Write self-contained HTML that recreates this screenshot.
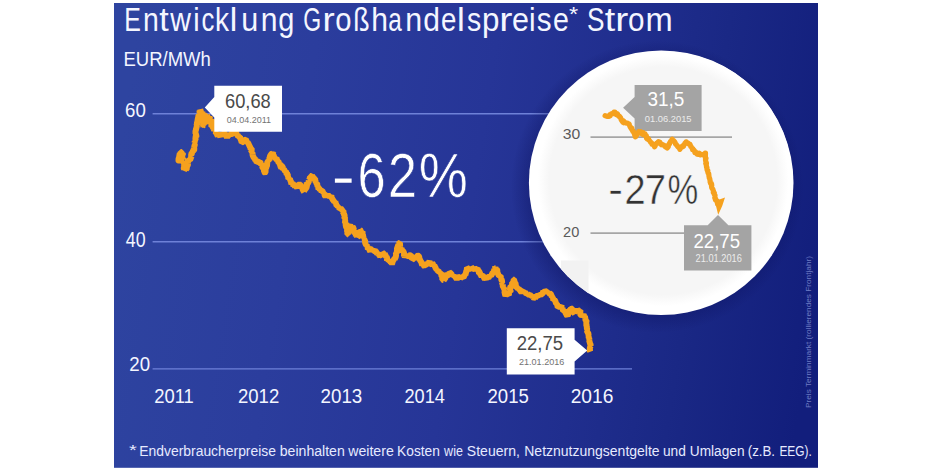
<!DOCTYPE html>
<html lang="de"><head><meta charset="utf-8"><title>Entwicklung Großhandelspreise Strom</title>
<style>
html,body{margin:0;padding:0;background:#fff;}
body{width:925px;height:474px;overflow:hidden;font-family:"Liberation Sans",sans-serif;}
svg{display:block;}
svg text{font-family:"Liberation Sans",sans-serif;}
</style></head>
<body>
<svg width="925" height="474" viewBox="0 0 925 474">
<defs>
<linearGradient id="bg" gradientUnits="userSpaceOnUse" x1="114" y1="180" x2="818" y2="290">
<stop offset="0" stop-color="#2e44a0"/><stop offset="0.25" stop-color="#2b3d9d"/><stop offset="0.5" stop-color="#263597"/><stop offset="0.68" stop-color="#202e8e"/><stop offset="0.82" stop-color="#1a2885"/><stop offset="1" stop-color="#121e7c"/>
</linearGradient>
<radialGradient id="sh" gradientUnits="userSpaceOnUse" cx="657.2" cy="186.8" r="146.3">
<stop offset="0.88" stop-color="#0a0f5a" stop-opacity="0.32"/><stop offset="1" stop-color="#0a0f5a" stop-opacity="0"/>
</radialGradient>
<radialGradient id="ci" gradientUnits="userSpaceOnUse" cx="663.2" cy="180.8" r="129.3">
<stop offset="0.88" stop-color="#f6f6f6"/><stop offset="0.97" stop-color="#ffffff"/>
</radialGradient>
<clipPath id="cc"><circle cx="661.2" cy="182.8" r="132.3"/></clipPath>
</defs>
<rect x="0" y="0" width="925" height="474" fill="#ffffff"/>
<rect x="114" y="3" width="704" height="464.8" fill="url(#bg)"/>
<!-- grid lines -->
<g stroke="#6e81d8" stroke-width="1.4">
<line x1="152.6" y1="113.8" x2="632" y2="113.8"/>
<line x1="152.6" y1="241.8" x2="632" y2="241.8"/>
<line x1="152.6" y1="368.9" x2="632" y2="368.9"/>
</g>
<!-- main series -->
<polyline fill="none" stroke="#f5a11e" stroke-width="6" stroke-linejoin="bevel" stroke-linecap="round" points="178.5,160.5 178.6,158.3 179.4,157.1 179.5,157.2 179.2,156.7 179.4,155.5 179.8,153.4 180.6,155.1 180.5,151.9 181.4,152.0 181.8,154.6 182.0,153.5 182.8,153.2 182.9,155.0 182.1,155.4 182.5,158.8 182.6,158.9 183.3,159.6 183.6,160.1 183.5,159.9 182.9,161.4 183.9,163.1 183.4,164.6 183.7,164.6 184.3,166.9 183.6,167.4 184.1,169.5 184.4,168.3 184.2,170.0 185.9,168.0 186.0,169.6 187.1,168.0 186.7,167.0 186.6,166.7 187.8,165.5 188.0,163.6 187.9,163.7 187.8,162.2 188.3,163.1 187.9,161.1 188.0,159.6 188.3,159.7 190.1,160.1 190.9,157.7 191.7,156.1 191.4,156.6 191.1,155.0 191.7,152.9 191.8,154.4 192.2,151.7 192.9,153.0 192.8,150.7 193.7,150.0 193.9,150.4 194.4,149.4 193.8,146.9 194.0,147.6 195.0,144.0 194.0,143.4 194.3,143.3 194.9,141.6 194.2,141.2 194.9,140.8 195.8,140.3 195.4,139.1 195.7,136.1 195.6,136.8 196.3,136.9 196.4,136.1 195.8,133.8 195.5,133.7 195.5,130.8 195.9,130.2 196.2,128.9 195.8,128.4 196.0,128.3 196.0,129.2 197.0,125.7 196.6,125.5 196.9,123.8 197.7,126.1 197.2,123.3 196.8,121.1 197.5,121.6 197.5,119.8 198.4,118.5 197.4,120.5 198.4,116.6 198.6,115.3 198.8,117.8 199.5,115.8 198.8,113.7 198.9,114.3 199.6,113.4 199.5,110.4 200.4,112.3 200.2,109.6 200.9,111.6 201.0,112.3 200.3,112.5 200.6,111.6 200.3,113.5 200.8,115.9 201.9,115.9 202.1,118.8 201.6,118.0 202.4,116.6 201.5,115.2 201.6,114.2 202.3,115.8 202.8,113.3 202.4,112.5 202.7,114.5 201.9,114.9 203.2,116.3 203.0,116.2 202.3,118.2 202.6,119.2 203.5,118.7 202.8,121.6 203.3,119.7 202.5,120.6 203.7,123.9 202.7,124.9 204.0,125.2 203.1,125.7 203.4,126.5 203.0,123.8 204.3,125.1 203.8,125.2 203.7,124.0 204.4,120.7 203.7,120.0 203.8,120.1 203.9,118.6 203.9,119.4 204.3,116.8 204.6,116.0 204.9,118.4 204.8,119.4 205.1,118.9 205.3,118.0 205.4,119.5 204.9,122.6 205.8,122.5 205.5,121.4 206.4,120.8 206.0,119.7 206.5,119.7 206.0,117.9 206.3,115.9 207.2,115.8 207.0,114.8 207.3,116.7 208.0,116.5 207.8,117.7 207.8,119.3 207.9,119.7 208.2,122.1 208.4,121.5 209.0,121.9 209.6,118.6 209.3,120.1 210.0,116.2 209.8,116.5 209.4,117.2 209.5,117.4 209.6,119.8 210.8,121.5 210.0,121.8 210.9,120.6 211.3,124.5 210.5,125.3 210.9,124.6 211.2,125.5 212.2,125.7 211.3,123.3 212.1,121.9 211.9,120.8 212.6,120.5 213.1,119.7 213.0,122.2 212.3,122.7 213.3,124.3 212.7,127.0 213.9,127.9 213.0,126.3 213.1,129.1 213.5,127.7 214.0,130.0 214.2,130.5 215.2,127.1 214.5,128.5 215.4,126.0 215.7,127.6 215.1,126.2 216.1,128.4 215.4,131.1 216.4,131.5 215.7,132.6 215.9,133.5 216.6,132.5 216.8,134.0 217.8,136.2 218.2,134.1 219.5,135.2 220.3,136.8 220.5,135.0 221.2,134.6 222.3,134.4 223.7,133.7 224.1,133.9 224.7,133.5 225.0,133.7 225.5,134.4 226.8,137.1 227.0,137.7 227.3,136.8 229.1,134.8 229.7,135.2 230.0,135.9 230.8,133.9 231.6,133.5 233.0,134.9 233.4,134.0 234.9,132.9 235.5,132.0 236.0,132.3 236.1,132.3 236.8,135.3 237.7,134.0 238.1,137.2 239.3,136.8 240.4,138.2 240.1,137.5 240.6,139.1 241.0,139.9 241.7,142.5 243.2,141.9 243.1,142.5 243.4,143.5 244.2,140.5 244.5,139.9 245.9,139.6 246.3,140.4 246.4,141.3 246.6,141.3 247.2,142.6 247.6,142.1 248.5,143.7 249.3,145.6 249.7,146.3 250.4,147.7 250.7,149.4 250.5,148.2 251.7,148.4 251.6,151.0 251.0,152.6 252.5,152.7 252.6,154.2 252.6,153.9 252.5,154.9 253.4,157.0 254.2,157.9 254.3,159.1 254.9,159.3 254.6,157.9 255.4,160.5 255.8,160.2 256.7,162.2 258.3,161.7 259.2,161.5 259.9,163.0 260.1,161.4 261.1,164.9 261.1,164.9 261.8,164.1 262.4,165.6 261.9,166.4 263.0,168.1 263.7,168.0 264.1,171.7 264.1,170.5 264.5,172.5 264.9,172.8 265.5,172.3 265.6,169.4 265.1,169.1 266.2,168.3 266.2,166.3 265.7,166.3 266.8,166.9 267.1,164.5 267.1,164.2 267.3,162.0 268.1,161.4 267.8,161.5 268.9,162.2 268.0,159.6 269.5,160.6 269.4,157.2 269.5,158.8 269.9,156.6 270.3,155.5 271.9,153.3 272.1,153.8 272.6,153.6 272.5,152.0 272.5,154.3 273.2,151.9 272.9,154.4 273.9,154.6 273.8,155.6 274.4,158.2 274.3,158.7 275.4,158.6 276.5,158.0 277.3,160.9 277.9,160.2 277.7,161.3 279.3,162.8 279.2,163.3 279.6,163.8 280.1,163.1 280.4,166.6 281.2,167.7 281.8,166.0 282.7,166.5 283.1,169.9 283.9,169.0 284.9,171.0 284.9,172.2 285.8,171.7 285.9,170.8 286.3,173.0 286.8,174.6 286.5,173.3 287.9,174.4 287.7,176.6 288.2,176.8 288.4,179.0 289.9,178.1 289.9,179.0 290.3,180.1 290.7,181.3 290.8,180.8 291.4,184.3 292.3,182.5 293.5,186.1 293.4,183.8 293.6,184.3 294.3,185.1 295.1,187.3 295.6,185.8 297.0,187.5 298.1,185.2 298.5,185.0 299.5,184.3 299.8,184.5 299.9,185.1 301.7,185.4 301.5,188.1 302.5,187.4 302.2,188.3 302.9,189.9 304.2,192.1 304.0,191.7 304.9,189.1 304.1,190.6 305.7,188.8 305.6,186.2 305.7,188.6 306.6,187.4 307.2,184.3 306.9,184.3 306.7,182.2 307.7,183.3 308.7,182.6 308.7,181.9 308.8,180.3 308.6,180.3 309.2,180.0 310.2,177.0 309.9,175.9 310.8,176.0 311.9,177.3 312.0,175.7 313.5,178.1 314.3,178.4 314.5,178.3 315.2,178.4 315.1,180.8 316.4,182.4 316.7,182.6 316.1,182.6 317.5,185.1 317.0,183.5 317.6,186.8 317.9,186.1 318.6,189.4 318.7,188.7 318.9,187.7 319.8,189.7 320.9,189.5 321.7,192.1 321.9,190.9 323.2,191.9 323.2,193.2 324.5,192.8 324.6,195.3 325.5,196.6 326.7,194.4 327.6,196.1 328.2,195.3 329.8,196.7 330.5,194.6 330.4,195.1 330.9,198.0 331.3,195.5 331.6,197.6 333.2,200.2 333.4,201.4 333.5,200.5 334.6,200.7 334.0,203.7 335.3,201.3 335.7,203.4 335.8,204.0 336.0,203.6 336.6,205.7 338.1,205.7 337.9,207.9 339.5,207.1 339.5,209.7 341.1,208.6 340.9,209.0 342.4,209.4 342.4,211.8 342.4,210.7 343.6,210.4 343.2,214.2 343.9,212.3 343.1,213.3 344.6,214.9 344.5,218.1 344.2,216.7 345.3,218.9 344.5,220.2 344.8,219.5 345.3,221.2 344.7,223.1 346.2,223.6 346.4,222.3 345.5,224.9 346.7,227.6 346.0,226.0 346.2,227.8 347.1,227.7 347.1,230.6 347.3,231.7 347.1,231.0 346.8,232.1 347.7,232.0 347.4,234.5 347.3,234.5 347.6,231.2 347.6,232.0 348.3,232.7 349.4,231.8 348.8,227.7 348.8,228.3 350.0,227.2 349.6,226.2 350.3,225.6 351.1,227.0 352.0,228.3 352.5,226.5 353.4,227.9 353.6,228.9 354.2,230.1 354.9,229.9 354.6,231.0 354.8,234.3 355.8,233.2 355.9,236.5 356.4,234.7 357.2,237.1 357.1,237.5 358.2,235.1 357.8,236.8 358.7,236.2 357.9,233.1 358.4,231.8 360.0,232.2 360.3,230.6 360.1,230.1 361.2,230.8 360.9,232.9 362.5,231.3 362.6,234.1 363.0,234.5 362.9,235.0 363.0,235.3 363.5,237.7 364.3,237.2 363.7,238.6 364.9,239.0 364.6,240.0 365.6,242.2 364.8,241.5 365.6,244.0 366.0,244.8 366.8,244.1 366.6,247.0 367.5,246.2 367.9,249.4 368.5,248.7 369.1,248.9 370.4,251.8 370.4,250.7 371.1,249.3 372.5,249.1 372.3,251.3 373.8,250.7 374.8,249.3 375.2,251.4 375.9,249.6 375.8,251.7 377.3,253.7 377.0,253.4 378.0,253.7 378.2,253.7 379.3,255.2 380.2,256.4 380.5,254.6 382.4,256.0 382.4,252.7 383.7,253.7 384.8,256.2 384.7,253.7 385.8,255.8 386.2,257.4 386.6,256.6 387.0,257.6 387.0,260.7 388.1,259.1 388.1,261.1 388.6,261.0 389.9,261.3 390.3,261.1 392.0,263.7 392.6,262.6 392.4,262.1 393.9,259.4 394.5,258.9 394.7,259.7 395.2,258.1 395.5,258.0 395.6,257.4 395.8,256.7 396.1,255.0 395.7,254.7 396.5,252.4 397.2,253.5 396.9,250.4 397.2,249.2 396.9,249.4 397.0,248.5 397.9,246.2 398.2,245.4 398.6,247.0 398.5,243.4 398.7,243.7 398.9,243.2 399.9,242.8 400.2,246.8 400.4,247.0 400.0,248.5 400.8,249.3 401.8,247.4 401.6,249.5 402.4,252.0 401.8,250.8 403.2,251.0 403.8,252.4 404.1,252.8 404.0,256.6 404.0,255.1 404.8,256.9 405.6,255.6 405.8,254.5 406.8,256.6 408.4,255.8 409.0,253.7 409.1,255.5 409.6,255.3 411.0,255.5 411.9,256.9 412.1,258.9 412.0,260.0 413.2,259.0 414.2,258.0 415.3,256.9 416.4,257.4 416.4,257.4 417.4,255.8 417.8,255.5 418.7,255.8 419.3,257.4 419.5,260.8 419.9,260.5 419.9,258.9 420.0,260.3 421.3,262.1 421.6,263.2 422.3,265.3 422.4,263.5 423.7,263.4 423.4,265.2 424.8,266.4 424.9,265.2 425.8,265.3 427.0,263.2 427.8,263.5 427.8,264.5 429.0,262.2 429.5,261.4 430.1,263.5 432.1,264.5 432.2,263.0 433.2,264.3 433.0,265.7 434.4,265.5 435.0,266.7 436.0,268.6 435.5,270.1 436.4,269.5 436.6,270.3 437.9,269.8 438.3,272.4 439.1,272.2 440.6,272.7 441.6,272.3 441.0,274.9 441.8,276.0 442.7,275.2 442.3,276.6 442.3,279.7 443.8,280.0 443.8,280.1 443.6,280.5 445.2,278.2 445.7,277.3 445.5,275.1 446.0,274.0 446.9,274.8 447.5,275.2 448.8,275.0 449.6,272.4 450.1,272.7 450.8,273.3 451.8,274.5 451.7,275.7 453.3,275.0 453.3,276.9 454.9,275.4 455.1,276.5 456.8,279.3 457.5,278.0 458.9,277.1 460.1,276.8 460.3,278.6 461.7,276.9 462.7,277.1 463.5,277.6 464.0,276.5 464.8,274.8 465.5,275.2 465.6,273.8 466.3,271.4 466.2,271.6 466.5,271.8 467.0,267.7 468.0,268.5 468.5,270.4 469.9,267.9 471.2,269.5 471.3,267.3 473.0,268.9 473.8,268.8 474.3,267.4 474.7,268.1 476.2,269.3 477.5,268.5 478.4,270.8 477.8,271.6 479.5,272.8 478.8,271.0 479.2,271.3 480.7,275.0 480.7,274.8 481.6,276.7 482.3,275.4 482.2,275.5 483.9,276.5 483.9,278.0 484.9,279.0 485.1,277.7 486.3,278.9 487.2,277.1 488.9,277.3 489.1,276.9 490.3,276.6 489.8,275.2 491.1,275.8 491.7,274.8 492.7,272.4 493.3,272.7 494.1,270.3 494.4,269.7 493.5,268.9 494.9,270.8 494.1,268.2 495.1,268.4 495.4,266.4 495.3,267.3 495.9,269.4 496.2,270.7 496.6,269.0 497.5,270.9 497.1,272.3 498.0,272.7 497.8,274.6 499.2,275.5 499.5,274.8 499.7,275.9 500.8,275.6 500.7,278.0 501.6,277.2 500.9,278.9 502.2,280.6 501.7,282.8 501.8,282.2 502.5,284.1 503.1,284.6 502.8,284.3 502.8,287.0 503.8,287.5 503.9,287.5 503.6,288.2 504.6,289.7 503.9,290.2 505.2,290.3 504.3,291.5 505.3,294.3 504.6,292.8 505.0,294.3 505.5,295.9 506.4,294.2 507.1,293.7 508.9,295.1 509.1,293.8 508.8,294.6 509.1,291.6 510.6,292.2 510.5,290.1 510.0,289.9 510.1,287.5 510.8,286.0 511.1,287.8 511.8,285.9 512.0,284.9 511.5,284.5 512.3,283.3 512.5,283.2 513.6,281.1 513.5,281.3 513.8,279.5 514.0,279.5 514.8,282.8 515.2,283.1 515.7,283.9 515.8,284.1 515.6,285.7 515.7,285.9 516.6,287.1 517.8,288.6 518.3,287.7 518.8,289.2 519.8,289.8 520.4,290.9 521.6,292.6 521.9,291.8 523.7,291.0 524.2,293.3 525.2,291.8 525.3,292.4 526.3,293.8 528.2,293.3 527.8,294.0 529.2,295.0 529.9,294.7 530.7,295.7 532.0,295.7 532.2,297.7 532.7,297.2 533.7,298.0 534.7,297.5 535.0,298.8 536.1,295.1 536.8,295.9 537.3,295.6 538.7,296.2 539.4,294.3 540.4,294.7 540.8,294.9 542.6,293.5 542.3,293.9 543.4,291.1 543.8,292.5 545.1,290.9 546.5,291.6 547.0,291.6 547.6,293.2 548.9,291.8 549.1,293.1 550.2,294.6 550.1,293.5 550.6,293.7 551.4,295.3 551.8,295.8 551.7,297.5 552.3,297.4 553.1,297.9 553.3,300.6 554.4,299.6 555.5,301.3 555.6,302.2 556.2,303.7 556.9,303.7 557.6,306.4 557.4,306.1 557.7,306.9 559.9,306.5 560.3,305.1 560.3,307.1 561.6,305.0 561.2,309.2 562.7,307.5 562.4,307.9 563.2,311.0 564.1,310.8 564.4,310.3 565.8,313.4 565.3,314.5 566.5,314.9 566.9,314.6 567.7,315.2 568.4,314.2 568.1,312.9 569.1,312.2 569.5,311.9 570.2,308.9 570.7,308.9 570.9,308.4 571.9,308.8 572.4,309.9 573.0,311.9 573.6,312.7 574.4,313.3 574.3,312.5 575.7,310.8 576.4,309.8 577.6,311.4 578.2,310.2 579.3,310.8 580.4,310.1 580.3,312.9 579.8,313.6 581.2,315.6 581.1,316.6 581.7,315.6 582.1,316.5 583.6,314.5 584.3,316.3 585.0,315.5 584.9,317.8 585.1,317.3 585.5,319.3 585.2,319.1 585.7,320.4 586.4,320.5 586.6,321.8 586.3,322.3 586.4,325.8 586.8,326.1 586.5,325.3 586.9,326.9 586.8,328.2 587.4,329.8 586.7,330.6 588.1,330.9 587.0,330.9 587.1,331.5 588.6,333.9 588.3,335.5 588.8,335.9 588.6,336.9 588.8,337.7 588.7,338.3 589.2,338.2 589.4,340.0 589.8,339.7 589.2,340.4 590.3,344.5 590.3,343.5 590.8,346.0 590.6,345.9 590.5,346.0 590.0,347.5 589.8,348.5 590.1,351.2 589.7,350.6"/>
<!-- tooltip 60,68 -->
<path d="M214.3 85.8H282V131.8H214.3V117.4L204.8 107.4L214.3 97Z" fill="#ffffff"/>
<!-- tooltip 22,75 -->
<path d="M506.8 328.3H574.6V339.8L587.2 350.6L574.6 361.4V374.5H506.8Z" fill="#ffffff"/>
<!-- magnifier circle -->
<circle cx="657.2" cy="186.8" r="146.3" fill="url(#sh)"/>
<circle cx="661.2" cy="182.8" r="132.3" fill="#ffffff"/>
<circle cx="663.2" cy="180.8" r="129.3" fill="url(#ci)"/>
<g clip-path="url(#cc)">
<rect x="561" y="260.5" width="27.5" height="40" fill="#f2f2f2"/>
</g>
<g stroke="#a6a6a6" stroke-width="1.8">
<line x1="590.5" y1="137.2" x2="732" y2="137.2"/>
<line x1="590.5" y1="233.1" x2="690" y2="233.1"/>
</g>
<path d="M634.6 85H701.6V131H634.6V118.6L623.1 107.8L634.6 97Z" fill="#a4a4a4"/>
<polyline fill="none" stroke="#f5a11e" stroke-width="5.2" stroke-linejoin="round" stroke-linecap="round" points="605.1,115.7 606.1,116.1 607.5,116.5 608.9,116.5 609.9,114.8 610.2,115.8 611.2,113.8 612.7,113.6 613.4,112.9 614.0,112.2 615.0,112.1 615.8,114.4 616.6,114.9 617.6,114.1 618.5,116.0 619.1,116.5 619.6,116.3 620.7,118.0 621.2,119.7 621.8,120.6 622.1,121.1 622.8,122.2 623.8,121.1 624.1,122.8 624.8,122.4 626.5,123.2 627.3,123.1 628.2,123.6 629.2,124.1 629.5,125.2 630.2,126.9 630.8,127.9 631.4,128.9 631.7,128.0 632.4,130.7 632.9,130.8 633.0,131.6 633.7,132.0 634.3,133.8 634.3,133.7 635.3,136.8 635.5,136.7 635.8,136.5 636.7,134.2 637.2,134.7 638.4,132.3 638.8,131.4 639.3,131.6 640.5,131.7 641.7,133.7 642.4,134.3 643.2,132.7 644.4,134.2 645.1,134.0 645.4,135.6 646.4,135.8 646.5,138.2 647.4,139.1 648.5,138.7 648.7,139.8 649.4,140.5 650.2,141.5 650.7,142.3 651.7,142.9 651.9,144.1 652.4,144.0 653.6,145.3 653.9,144.9 654.5,146.8 655.1,146.1 655.3,145.4 656.5,143.3 657.1,143.4 657.8,142.3 658.3,141.8 659.4,142.9 659.8,142.1 661.3,144.7 662.1,144.3 662.7,144.8 663.9,145.2 664.5,145.8 665.4,147.0 666.2,147.2 667.2,148.1 667.9,146.2 668.3,146.8 668.5,144.8 669.5,144.0 669.4,143.5 670.4,141.9 670.5,141.5 671.5,140.8 672.0,139.4 672.2,139.2 672.7,140.4 673.8,140.8 673.9,140.9 674.8,141.9 675.6,144.2 676.0,144.3 676.4,144.7 677.5,146.3 678.2,146.5 678.2,147.2 679.4,148.0 679.8,149.4 680.4,148.4 681.1,147.5 682.3,146.1 682.2,147.0 683.6,146.2 683.9,145.3 685.1,142.9 685.6,143.4 686.1,141.8 687.0,142.6 687.4,142.9 688.0,143.0 689.1,144.2 690.0,144.4 690.8,146.5 691.2,146.8 692.2,148.5 692.8,148.6 692.7,149.7 693.5,149.6 694.5,150.9 694.9,152.6 695.8,152.1 696.3,153.2 697.1,154.2 698.3,154.3 699.2,153.3 700.3,154.9 701.3,154.4 702.3,154.6 704.2,154.3 705.1,153.2 705.5,153.2 705.4,156.1 705.0,155.8 705.3,157.5 705.6,158.4 706.0,158.4 705.5,159.7 705.6,160.7 706.5,163.4 705.8,163.7 706.1,164.3 706.4,165.8 706.5,167.1 707.0,167.5 706.9,168.5 707.1,170.0 707.9,170.6 707.6,171.2 708.1,173.1 708.7,173.6 708.9,175.2 708.9,175.7 709.2,177.4 709.4,178.4 709.7,178.4 710.0,180.4 710.2,181.0 710.1,181.8 710.8,183.8 711.5,183.7 711.8,185.6 711.5,185.9 711.7,187.7 712.5,188.9 712.9,189.4 713.0,190.0 713.5,191.1 713.3,192.2 713.5,192.2 714.4,193.0 714.1,194.1 715.1,195.3 714.7,197.8 715.4,198.0 715.4,199.8 716.3,200.7 716.8,201.2 717.1,201.0 717.4,203.0 717.5,204.0"/>
<path d="M714 196.8L719.4 199.6L725 197.6L722.2 206L718.2 214.8L716 206Z" fill="#f5a11e"/>
<path d="M684 225.3H707.7L718 215L728.4 225.3H751.4V270.5H684Z" fill="#a4a4a4"/>
<!-- texts -->
<text aria-label="Entwicklung" y="30.60" font-size="33" fill="#f4f6ff"><tspan x="124.16" textLength="16.61" lengthAdjust="spacingAndGlyphs">E</tspan><tspan x="143.01" textLength="15.84" lengthAdjust="spacingAndGlyphs">n</tspan><tspan x="159.38" textLength="9.47" lengthAdjust="spacingAndGlyphs">t</tspan><tspan x="170.24" textLength="20.69" lengthAdjust="spacingAndGlyphs">w</tspan><tspan x="193.17" textLength="6.36" lengthAdjust="spacingAndGlyphs">i</tspan><tspan x="201.61" textLength="12.87" lengthAdjust="spacingAndGlyphs">c</tspan><tspan x="214.91" textLength="14.05" lengthAdjust="spacingAndGlyphs">k</tspan><tspan x="229.82" textLength="7.51" lengthAdjust="spacingAndGlyphs">l</tspan><tspan x="241.21" textLength="17.02" lengthAdjust="spacingAndGlyphs">u</tspan><tspan x="260.70" textLength="16.76" lengthAdjust="spacingAndGlyphs">n</tspan><tspan x="278.29" textLength="16.08" lengthAdjust="spacingAndGlyphs">g</tspan></text>
<text aria-label="Großhandelspreise" y="30.60" font-size="33" fill="#f4f6ff"><tspan x="303.34" textLength="17.87" lengthAdjust="spacingAndGlyphs">G</tspan><tspan x="322.46" textLength="12.25" lengthAdjust="spacingAndGlyphs">r</tspan><tspan x="335.37" textLength="16.25" lengthAdjust="spacingAndGlyphs">o</tspan><tspan x="353.34" textLength="16.35" lengthAdjust="spacingAndGlyphs">ß</tspan><tspan x="371.21" textLength="16.74" lengthAdjust="spacingAndGlyphs">h</tspan><tspan x="388.27" textLength="13.53" lengthAdjust="spacingAndGlyphs">a</tspan><tspan x="405.18" textLength="16.89" lengthAdjust="spacingAndGlyphs">n</tspan><tspan x="423.24" textLength="16.70" lengthAdjust="spacingAndGlyphs">d</tspan><tspan x="441.12" textLength="15.41" lengthAdjust="spacingAndGlyphs">e</tspan><tspan x="456.95" textLength="7.76" lengthAdjust="spacingAndGlyphs">l</tspan><tspan x="466.91" textLength="14.22" lengthAdjust="spacingAndGlyphs">s</tspan><tspan x="481.88" textLength="17.44" lengthAdjust="spacingAndGlyphs">p</tspan><tspan x="499.17" textLength="13.19" lengthAdjust="spacingAndGlyphs">r</tspan><tspan x="511.91" textLength="16.95" lengthAdjust="spacingAndGlyphs">e</tspan><tspan x="528.97" textLength="6.57" lengthAdjust="spacingAndGlyphs">i</tspan><tspan x="536.78" textLength="14.79" lengthAdjust="spacingAndGlyphs">s</tspan><tspan x="552.89" textLength="15.88" lengthAdjust="spacingAndGlyphs">e</tspan></text>
<text x="569.1" y="20.6" font-size="20" fill="#f4f6ff" textLength="9.2" lengthAdjust="spacingAndGlyphs">*</text>
<text aria-label="Strom" y="30.60" font-size="33" fill="#f4f6ff"><tspan x="586.91" textLength="17.49" lengthAdjust="spacingAndGlyphs">S</tspan><tspan x="604.83" textLength="10.44" lengthAdjust="spacingAndGlyphs">t</tspan><tspan x="615.20" textLength="13.05" lengthAdjust="spacingAndGlyphs">r</tspan><tspan x="627.95" textLength="16.49" lengthAdjust="spacingAndGlyphs">o</tspan><tspan x="645.53" textLength="27.22" lengthAdjust="spacingAndGlyphs">m</tspan></text>
<text aria-label="-62%" y="196.70" font-size="63.6" fill="#ffffff" stroke="#28399a" stroke-width="0.7"><tspan x="331.20" textLength="24.01" lengthAdjust="spacingAndGlyphs">-</tspan><tspan x="357.44" textLength="28.08" lengthAdjust="spacingAndGlyphs">6</tspan><tspan x="387.75" textLength="29.30" lengthAdjust="spacingAndGlyphs">2</tspan><tspan x="418.63" textLength="49.14" lengthAdjust="spacingAndGlyphs">%</tspan></text>
<text aria-label="-27%" y="204.00" font-size="43.2" fill="#333333" stroke="#f6f6f6" stroke-width="0.5"><tspan x="608.33" textLength="14.73" lengthAdjust="spacingAndGlyphs">-</tspan><tspan x="624.39" textLength="21.12" lengthAdjust="spacingAndGlyphs">2</tspan><tspan x="644.84" textLength="21.29" lengthAdjust="spacingAndGlyphs">7</tspan><tspan x="667.57" textLength="30.77" lengthAdjust="spacingAndGlyphs">%</tspan></text>
<text transform="translate(123.48,65.50) scale(0.9226,1)" font-size="20.06" fill="#f4f6ff">EUR/MWh</text>
<text transform="translate(125.10,116.50) scale(0.9000,1)" font-size="20.71" fill="#f4f6ff">60</text>
<text transform="translate(125.80,247.30) scale(0.8304,1)" font-size="21.43" fill="#f4f6ff">40</text>
<text transform="translate(129.29,371.40) scale(0.9095,1)" font-size="20.57" fill="#f4f6ff">20</text>
<text transform="translate(154.29,402.80) scale(0.9071,1)" font-size="20.29" fill="#f4f6ff">2011</text>
<text transform="translate(237.99,402.80) scale(0.9140,1)" font-size="20.29" fill="#f4f6ff">2012</text>
<text transform="translate(320.57,402.80) scale(0.9256,1)" font-size="20.29" fill="#f4f6ff">2013</text>
<text transform="translate(404.50,402.80) scale(0.8977,1)" font-size="20.29" fill="#f4f6ff">2014</text>
<text transform="translate(487.48,402.80) scale(0.9163,1)" font-size="20.29" fill="#f4f6ff">2015</text>
<text transform="translate(570.65,402.80) scale(0.9465,1)" font-size="20.29" fill="#f4f6ff">2016</text>
<text transform="translate(225.00,107.90) scale(0.8959,1)" font-size="20.43" fill="#4a4a4a">60,68</text>
<text transform="translate(226.80,122.60) scale(1.0326,1)" font-size="8.71" fill="#727272">04.04.2011</text>
<text transform="translate(516.69,350.40) scale(0.9082,1)" font-size="20.43" fill="#4a4a4a">22,75</text>
<text transform="translate(519.00,365.00) scale(1.0419,1)" font-size="8.71" fill="#727272">21.01.2016</text>
<text transform="translate(647.47,106.40) scale(0.9342,1)" font-size="20.29" fill="#ffffff">31,5</text>
<text transform="translate(644.80,121.60) scale(0.9915,1)" font-size="9.43" fill="#ececec">01.06.2015</text>
<text transform="translate(562.69,139.20) scale(1.1143,1)" font-size="14.14" fill="#5a5a5a">30</text>
<text transform="translate(563.08,237.40) scale(1.0200,1)" font-size="14.29" fill="#5a5a5a">20</text>
<text transform="translate(693.40,247.80) scale(0.8960,1)" font-size="20.86" fill="#ffffff">22,75</text>
<text transform="translate(695.60,261.90) scale(0.9120,1)" font-size="10.14" fill="#ececec">21.01.2016</text>
<text transform="translate(129.03,455.20) scale(1.3750,1)" font-size="14.53" fill="#e6eaff">*</text>
<text transform="translate(139.27,455.90) scale(0.9288,1)" font-size="14.97" fill="#e6eaff">Endverbraucherpreise</text>
<text transform="translate(279.76,455.90) scale(0.9418,1)" font-size="14.97" fill="#e6eaff">beinhalten</text>
<text transform="translate(348.20,455.90) scale(0.9458,1)" font-size="14.97" fill="#e6eaff">weitere</text>
<text transform="translate(397.08,455.90) scale(0.9200,1)" font-size="14.97" fill="#e6eaff">Kosten</text>
<text transform="translate(444.10,455.90) scale(0.8364,1)" font-size="14.97" fill="#e6eaff">wie</text>
<text transform="translate(466.86,455.90) scale(0.9364,1)" font-size="14.97" fill="#e6eaff">Steuern,</text>
<text transform="translate(524.26,455.90) scale(0.9357,1)" font-size="14.97" fill="#e6eaff">Netznutzungsentgelte</text>
<text transform="translate(662.98,455.90) scale(0.9174,1)" font-size="14.97" fill="#e6eaff">und</text>
<text transform="translate(689.79,455.90) scale(0.9138,1)" font-size="14.97" fill="#e6eaff">Umlagen</text>
<text transform="translate(747.71,455.90) scale(0.8897,1)" font-size="14.97" fill="#e6eaff">(z.B.</text>
<text transform="translate(779.40,455.90) scale(0.7974,1)" font-size="14.97" fill="#e6eaff">EEG).</text>
<text transform="translate(811.2,408) rotate(-90)" font-size="7.6" fill="#6f7cc4" textLength="152" lengthAdjust="spacingAndGlyphs">Preis Terminmarkt (rollierendes Frontjahr)</text>
</svg>
</body></html>
